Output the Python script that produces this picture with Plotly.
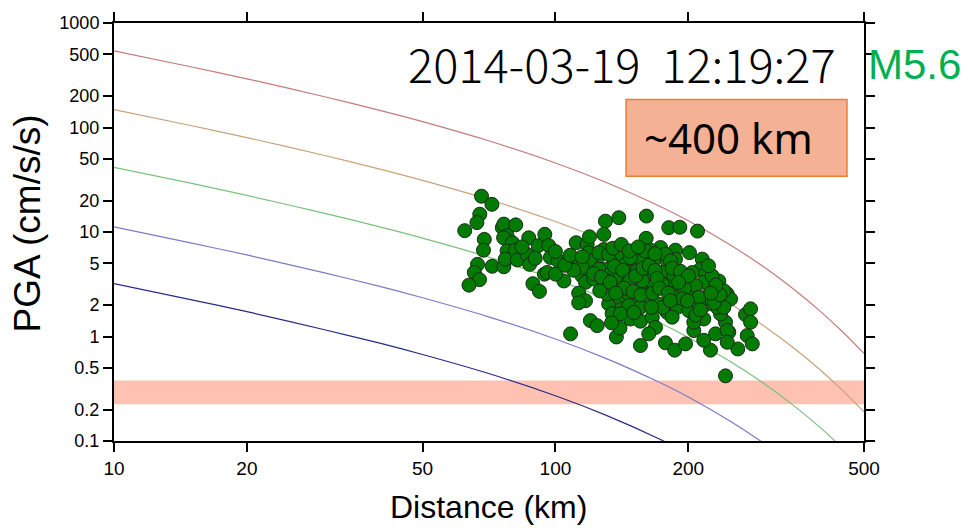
import plotly.graph_objects as go

# ---------------- data ----------------
curve_dist = [10, 15, 20, 30, 40, 50, 70, 100, 130, 170, 200, 250, 300, 350, 400, 450, 500]
curve_red = [541, 379, 292, 197, 146, 114, 75.5, 45.8, 29.9, 18.1, 12.8, 7.43, 4.47, 2.74, 1.71, 1.08, 0.69]
curve_tan = [148, 104, 80.0, 54.0, 40.0, 31.2, 20.7, 12.6, 8.2, 4.96, 3.50, 2.04, 1.22, 0.752, 0.470, 0.297, 0.190]
curve_green = [41.6, 29.2, 22.4, 15.1, 11.2, 8.75, 5.81, 3.52, 2.30, 1.39, 0.98, 0.57, 0.344, 0.211, 0.132, 0.083, 0.053]
curve_blue = [11.2, 7.83, 6.03, 4.06, 3.02, 2.35, 1.56, 0.946, 0.618, 0.373, 0.264, 0.153, 0.092, 0.057]
curve_navy = [3.2, 2.24, 1.73, 1.16, 0.864, 0.673, 0.447, 0.271, 0.177, 0.107, 0.0755, 0.044]

station_dist = [
    68.0, 71.8, 67.4, 66.4, 62.3, 69.0, 68.7, 66.6, 65.5, 67.3, 63.7, 71.9, 76.4, 75.8, 76.4,
    81.3, 77.7, 76.3, 79.9, 77.7, 77.0, 81.2, 82.0, 86.2, 87.0, 87.4, 88.9, 92.0, 91.4, 94.4,
    94.6, 129.8, 96.6, 97.4, 101.4, 95.8, 104.5, 100.0, 107.2, 111.4, 113.9, 118.0, 119.4, 118.9,
    114.9, 117.0, 112.9, 117.0, 122.1, 124.3, 128.7, 128.7, 131.0, 127.6, 132.0, 134.4, 120.0,
    124.3, 108.2, 137.4, 138.0, 135.6, 120.0, 114.9, 125.4, 133.2, 131.0, 112.9, 125.4, 132.0,
    131.0, 126.0,
    139.2, 160.7, 180.6, 191.3, 160.5, 173.0, 164.2, 187.0, 201.2, 141.6, 154.4, 144.1, 167.0,
    179.1, 151.8, 159.9, 187.0, 140.4, 147.9, 162.7, 174.5, 185.3, 197.1, 204.1, 139.2, 146.6,
    151.8, 159.9, 164.2, 171.5, 179.1, 188.7, 200.5, 141.6, 147.9, 155.8, 165.7, 168.5, 162.7,
    155.8, 177.5, 186.3, 197.1, 150.5, 157.2, 177.5, 182.2, 153.2, 185.3, 145.4, 155.8, 177.5,
    146.6, 161.3, 188.7, 146.6, 155.8, 140.4, 183.8, 159.9, 157.2, 174.5, 147.9, 150.5,
    209.8, 215.0, 213.1, 218.7, 216.8, 234.5, 228.5, 245.0, 205.8, 207.6, 220.6, 234.5, 240.7,
    249.2, 216.8, 230.5, 205.8, 242.8, 247.0, 269.5, 276.7, 276.7, 271.9, 279.2, 258.9, 224.5,
    216.8, 242.8, 204.1, 207.6, 240.7, 218.7, 211.2, 236.6, 205.8, 245.0, 245.0, 211.2, 226.5,
    232.6, 240.7, 222.2,
    122, 127, 133, 136, 142, 148, 152, 158, 163, 168, 170, 143, 137, 150, 156, 166, 172, 180,
    184, 192, 196, 200, 190, 194, 199, 135, 141, 147, 154, 168, 110, 105, 90, 84, 100, 108,
    115, 208, 213, 229, 236, 231, 225, 140, 134, 175, 182, 165,
]
station_pga = [
    22.0, 18.4, 14.8, 12.3, 10.3, 8.5, 6.7, 4.9, 4.1, 3.5, 3.1, 4.7, 4.65, 11.0, 11.9,
    11.7, 9.2, 8.8, 7.9, 6.6, 5.5, 6.7, 5.4, 6.1, 8.8, 4.9, 3.2, 2.7, 7.4, 3.95,
    9.5, 12.7, 7.4, 5.7, 5.3, 4.1, 3.4, 3.95, 5.3, 7.9, 5.1, 7.6, 9.0, 6.35,
    3.8, 3.3, 2.6, 2.2, 3.55, 5.5, 9.5, 6.8, 4.4, 2.85, 2.05, 1.65, 1.42,
    1.27, 1.06, 0.99, 3.06, 5.5, 5.29, 4.6, 4.4, 3.95, 2.55, 2.1, 6.35, 6.1,
    3.42, 2.74,
    13.7, 14.2, 11.0, 11.1, 8.7, 7.1, 6.7, 6.7, 6.35, 6.1, 5.9, 4.9, 5.4,
    5.3, 4.75, 4.93, 5.49, 3.67, 4.09, 3.95, 4.1, 3.06, 3.42, 3.06, 2.37, 2.84,
    2.2, 2.95, 3.42, 2.04, 1.7, 1.9, 1.77, 1.84, 1.47, 1.4, 1.53, 1.22, 1.06,
    0.82, 0.87, 0.74, 0.85, 5.9, 5.3, 6.13, 5.29, 4.25, 3.8, 3.2, 3.06, 3.06,
    2.55, 2.46, 2.37, 1.97, 1.9, 1.645, 1.53, 6.59, 3.42, 3.18, 5.69, 1.7,
    10.2, 5.5, 4.41, 3.95, 3.3, 3.4, 2.74, 2.55, 2.74, 2.2, 2.04, 1.84, 2.2,
    2.28, 1.47, 1.06, 1.14, 1.37, 1.1, 1.62, 1.84, 1.37, 1.02, 0.85, 0.76, 0.74,
    0.92, 0.42, 4.09, 3.06, 2.74, 2.37, 2.04, 1.645, 1.37, 1.14, 0.88, 2.37, 3.8,
    1.9, 1.9, 4.75,
    4.0, 3.7, 3.3, 4.7, 4.3, 3.5, 3.8, 4.5, 4.8, 4.3, 3.6, 2.9, 2.6, 2.7, 2.5, 2.6, 2.9, 2.6,
    4.5, 4.2, 2.9, 3.8, 3.3, 2.3, 2.2, 7.0, 7.6, 6.6, 7.2, 6.2, 4.3, 4.8, 5.6, 7.2, 6.5, 6.0,
    5.8, 1.6, 1.8, 2.1, 2.5, 3.1, 2.6, 1.2, 1.35, 1.9, 2.2, 1.9,
]

x_ticks = [10, 20, 50, 100, 200, 500]
y_ticks = [0.1, 0.2, 0.5, 1, 2, 5, 10, 20, 50, 100, 200, 500, 1000]
y_tick_text = ["0.1", "0.2", "0.5", "1", "2", "5", "10", "20", "50", "100", "200", "500", "1000"]
band_low, band_high = 0.225, 0.38

# ---------------- figure ----------------
fig = go.Figure()

curves = [
    (curve_red, "#c47c7c"),
    (curve_tan, "#c8a27a"),
    (curve_green, "#7cc07c"),
    (curve_blue, "#7a7cc6"),
    (curve_navy, "#2a2a88"),
]
for vals, col in curves:
    fig.add_trace(go.Scatter(
        x=curve_dist[:len(vals)], y=vals, mode="lines",
        line=dict(color=col, width=1.2, shape="spline", smoothing=0.8),
        hoverinfo="skip", showlegend=False,
    ))

fig.add_trace(go.Scatter(
    x=station_dist, y=station_pga, mode="markers",
    marker=dict(size=14, color="#007a00", line=dict(color="#1c2a1c", width=1)),
    showlegend=False,
))

fig.add_shape(type="rect", xref="paper", yref="y", x0=0, x1=1,
              y0=band_low, y1=band_high, fillcolor="#ffc2b2",
              line=dict(width=0), layer="below")

fig.add_shape(type="rect", xref="paper", yref="paper",
              x0=0.6827, x1=0.9773, y0=0.6333, y1=0.8167,
              fillcolor="#f5b193", line=dict(color="#ed7d31", width=1.5),
              layer="above")

fig.add_annotation(xref="paper", yref="paper", x=0.8193, y=0.7262,
                   text="~400 km", showarrow=False, xanchor="center", yanchor="middle",
                   font=dict(family="Noto Sans, Liberation Sans, sans-serif", size=42, color="black"))
fig.add_annotation(xref="paper", yref="paper", x=0.9653, y=0.905,
                   text="2014-03-19\u00a0\u00a012:19:27", showarrow=False, xanchor="right", yanchor="middle",
                   font=dict(family="Noto Sans CJK KR, Noto Sans, sans-serif", size=47,
                             color="black", weight=300))
fig.add_annotation(xref="paper", yref="paper", x=1.002, y=0.9,
                   text="M5.6", showarrow=False, xanchor="left", yanchor="middle",
                   font=dict(family="Liberation Sans, Arial, sans-serif", size=42, color="#00b050"))
fig.add_annotation(xref="paper", yref="paper", x=0.499, y=-0.157,
                   text="Distance (km)", showarrow=False, xanchor="center", yanchor="middle",
                   font=dict(family="Liberation Sans, Arial, sans-serif", size=32, color="black"))
fig.add_annotation(xref="paper", yref="paper", x=-0.115, y=0.52,
                   text="PGA (cm/s/s)", showarrow=False, textangle=-90,
                   xanchor="center", yanchor="middle",
                   font=dict(family="Liberation Sans, Arial, sans-serif", size=37, color="black"))

fig.update_xaxes(type="log", range=[1, 2.69897], tickvals=x_ticks,
                 ticktext=[str(v) for v in x_ticks],
                 ticks="outside", ticklen=9, tickwidth=1.5, tickcolor="black",
                 showline=True, linecolor="black", linewidth=2, mirror="allticks",
                 showgrid=False, zeroline=False,
                 tickfont=dict(family="Liberation Sans Narrow, Liberation Sans, Arial", size=19, color="black"))
fig.update_yaxes(type="log", range=[-1, 3], tickvals=y_ticks, ticktext=y_tick_text,
                 ticks="outside", ticklen=9, tickwidth=1.5, tickcolor="black",
                 showline=True, linecolor="black", linewidth=2, mirror="allticks",
                 showgrid=False, zeroline=False,
                 tickfont=dict(family="Liberation Sans, Arial", size=18, color="black"))

fig.update_layout(
    width=968, height=528,
    margin=dict(l=114, r=104, t=21, b=87),
    plot_bgcolor="white", paper_bgcolor="white",
    showlegend=False,
)

fig.write_html("out.html")
